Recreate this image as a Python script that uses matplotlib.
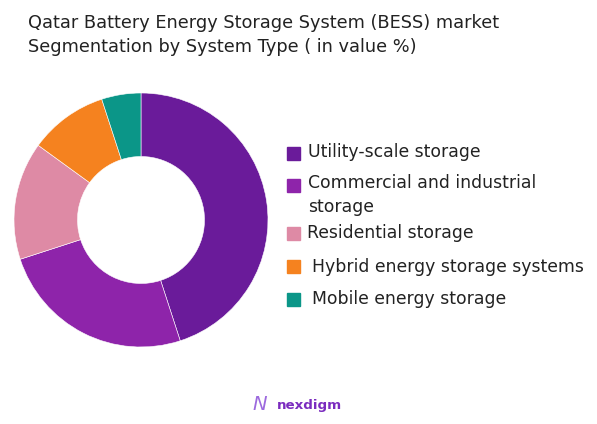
import matplotlib
matplotlib.use("Agg")
import matplotlib.pyplot as plt
from matplotlib.patches import Rectangle

# --- Данные ---
segments = ['Utility-scale storage', 'Commercial and industrial\nstorage', 'Residential storage',
            'Hybrid energy storage systems', 'Mobile energy storage']
shares = [45, 25, 15, 10, 5]
colors = ['#6A1B9A', '#8E24AA', '#DE8AA5', '#F5821F', '#0B9688']

title_lines = ['Qatar Battery Energy Storage System (BESS) market',
               'Segmentation by System Type ( in value %)']

W, H = 597, 424
fig = plt.figure(figsize=(W / 100, H / 100), dpi=100)
plt.rcParams['font.family'] = ['DejaVu Sans']

# --- Кольцевая диаграмма ---
cx, cy, r = 141, 220, 127
ax = fig.add_axes([(cx - r) / W, (H - cy - r) / H, 2 * r / W, 2 * r / H])
ax.pie(shares, colors=colors, startangle=90, counterclock=False, radius=1,
       wedgeprops=dict(width=0.5, edgecolor='white', linewidth=0.4))
ax.set_xlim(-1, 1)
ax.set_ylim(-1, 1)
ax.set_aspect('equal')
ax.axis('off')

# --- Заголовок ---
for i, line in enumerate(title_lines):
    fig.text(28 / W, 1 - (23 + 24 * i) / H, line, ha='left', va='center',
             fontsize=12.8, color='#222222')

# --- Легенда ---
square_y = [153.5, 185.5, 233.5, 266, 299]
text_y = [152, 183, 233, 267, 299]
label_x = [308, 308, 307, 312, 312]
for lab, col, sy, ty, lx in zip(segments, colors, square_y, text_y, label_x):
    fig.patches.append(Rectangle((287 / W, 1 - (sy + 6.5) / H), 13 / W, 13 / H,
                                 transform=fig.transFigure, color=col, figure=fig))
    for j, part in enumerate(lab.split('\n')):
        fig.text(lx / W, 1 - (ty + 24 * j) / H, part, ha='left', va='center',
                 fontsize=12.4, color='#222222')

# --- Логотип ---
fig.text(277 / W, 1 - 405 / H, 'nexdigm', ha='left', va='center', fontsize=9.6,
         fontweight='bold', color='#7B2CBF')
fig.text(252 / W, 1 - 405 / H, 'N', ha='left', va='center', fontsize=14,
         color='#9C6ADE', fontstyle='italic')

fig.savefig('out.png', dpi=100)
